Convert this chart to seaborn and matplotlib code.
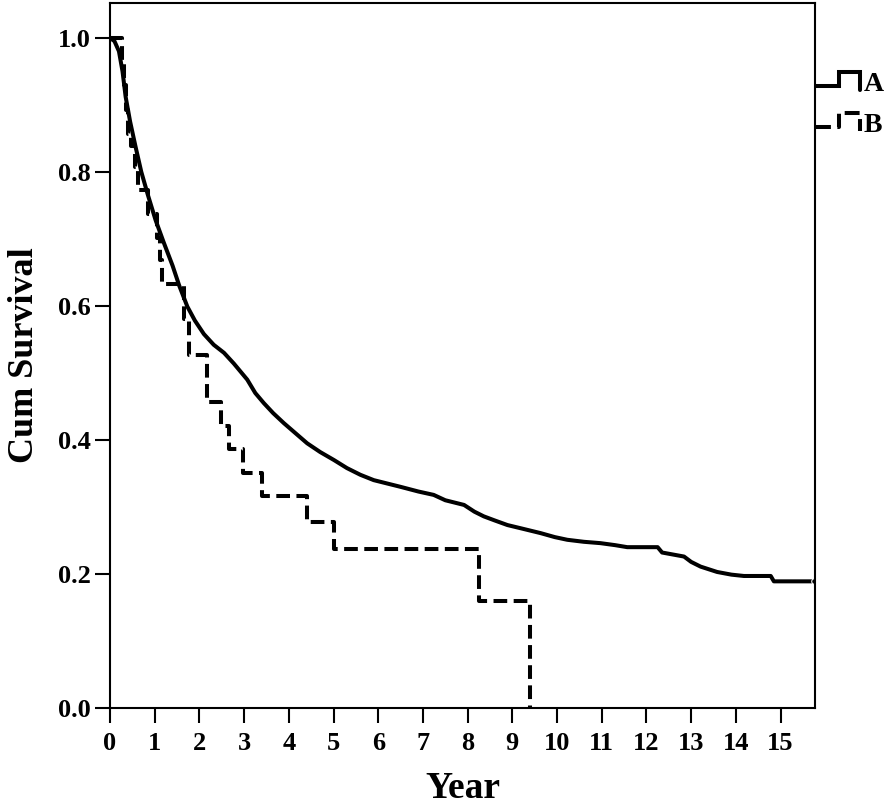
import numpy as np
import pandas as pd
import matplotlib
matplotlib.use("Agg")
import matplotlib.pyplot as plt
from matplotlib.legend_handler import HandlerBase
from matplotlib.lines import Line2D
import seaborn as sns

# ---- data ----
years_a = [0.0, 0.1, 0.2, 0.28, 0.35, 0.45, 0.57, 0.7, 0.85, 1.02, 1.2, 1.4, 1.55, 1.73,
           1.9, 2.1, 2.32, 2.55, 2.77, 3.07, 3.25, 3.44, 3.65, 3.89, 4.15, 4.41, 4.7,
           5.01, 5.3, 5.6, 5.9, 6.2, 6.5, 6.9, 7.24, 7.5, 7.92, 8.15, 8.36, 8.6, 8.89,
           9.2, 9.63, 9.95, 10.23, 10.6, 10.97, 11.3, 11.57, 12.25, 12.35, 12.84, 13.0,
           13.21, 13.58, 13.9, 14.18, 14.78, 14.85, 15.75]
surv_a = [1.0, 0.995, 0.98, 0.95, 0.912, 0.875, 0.838, 0.80, 0.765, 0.728, 0.695, 0.66,
          0.63, 0.599, 0.578, 0.558, 0.542, 0.53, 0.514, 0.49, 0.47, 0.455, 0.44, 0.425,
          0.41, 0.395, 0.382, 0.37, 0.358, 0.348, 0.34, 0.335, 0.33, 0.323, 0.318, 0.31,
          0.303, 0.293, 0.286, 0.28, 0.273, 0.268, 0.261, 0.255, 0.251, 0.248, 0.246,
          0.243, 0.240, 0.240, 0.232, 0.226, 0.218, 0.211, 0.203, 0.199, 0.197, 0.197,
          0.189, 0.189]

years_b = [0.0, 0.26, 0.31, 0.36, 0.41, 0.47, 0.55, 0.62, 0.85, 1.05, 1.12, 1.17, 1.65,
           1.76, 2.16, 2.49, 2.66, 2.98, 3.40, 4.41, 5.01, 8.25, 9.39]
surv_b = [1.0, 0.964, 0.929, 0.893, 0.857, 0.838, 0.808, 0.773, 0.737, 0.702, 0.669,
          0.633, 0.580, 0.527, 0.457, 0.421, 0.386, 0.351, 0.316, 0.277, 0.238, 0.159, 0.0]

group_labels = ["A", "B"]
x_ticks = list(range(0, 16))
y_ticks = [0.0, 0.2, 0.4, 0.6, 0.8, 1.0]
x_label = "Year"
y_label = "Cum Survival"

df_a = pd.DataFrame({"Year": years_a, "Survival": surv_a})
df_b = pd.DataFrame({"Year": years_b, "Survival": surv_b})

# ---- style ----
sns.set_style("ticks")
plt.rcParams["font.family"] = ["Liberation Serif", "DejaVu Serif"]
plt.rcParams["font.weight"] = "bold"
plt.rcParams["axes.labelweight"] = "bold"
plt.rcParams["text.color"] = "black"
plt.rcParams["axes.labelcolor"] = "black"

fig = plt.figure(figsize=(8.94, 8.10), dpi=100)
ax = fig.add_axes([110 / 894, 102 / 810, 705 / 894, 705 / 810])

lw = 2.9
sns.lineplot(data=df_a, x="Year", y="Survival", ax=ax, color="black", lw=lw,
             estimator=None, sort=False,
             marker="o", markevery=[len(years_a) - 1], markersize=4,
             label=group_labels[0])
sns.lineplot(data=df_b, x="Year", y="Survival", ax=ax, color="black", lw=lw,
             drawstyle="steps-post", estimator=None, sort=False,
             linestyle=(0, (3.4, 1.6)), label=group_labels[1])

ax.set_xlim(0, 15.77)
ax.set_ylim(0, 1.052)
ax.set_xticks(x_ticks)
ax.set_yticks(y_ticks)
ax.set_yticklabels([f"{v:.1f}" for v in y_ticks])
ax.tick_params(axis="both", direction="out", length=11, width=1.5, labelsize=19,
               color="black", labelcolor="black")
ax.tick_params(axis="x", pad=6)
ax.tick_params(axis="y", pad=3)
for lab in ax.get_xticklabels() + ax.get_yticklabels():
    lab.set_fontweight("bold")
for sp in ax.spines.values():
    sp.set_visible(True)
    sp.set_linewidth(1.5)
    sp.set_color("black")

ax.set_xlabel(x_label, fontsize=27, fontweight="bold", labelpad=12, color="black")
ax.set_ylabel(y_label, fontsize=26, fontweight="bold", labelpad=12, color="black")


class StepHandler(HandlerBase):
    def create_artists(self, legend, orig_handle, xdescent, ydescent, width, height,
                       fontsize, trans):
        xs = np.array([0.0, 0.5, 0.5, 0.97, 0.97]) * width - xdescent
        ys = np.array([0.25, 0.25, 0.95, 0.95, 0.05]) * height - ydescent
        line = Line2D(xs, ys, color="black", lw=orig_handle.get_linewidth(),
                      linestyle=orig_handle.get_linestyle(),
                      solid_joinstyle="miter")
        line.set_transform(trans)
        return [line]


handles = [Line2D([], [], color="black", lw=lw),
           Line2D([], [], color="black", lw=lw, linestyle=(0, (1.2, 1.2)))]
leg = ax.legend(handles, group_labels, loc="upper left", bbox_to_anchor=(1.002, 0.903),
                frameon=False, borderpad=0, borderaxespad=0, handlelength=1.6,
                handleheight=0.7, handletextpad=0.1, labelspacing=0.55,
                prop={"family": "Liberation Serif", "weight": "bold", "size": 20},
                handler_map={Line2D: StepHandler()})
for t in leg.get_texts():
    t.set_color("black")

fig.savefig("out.png", dpi=100)
